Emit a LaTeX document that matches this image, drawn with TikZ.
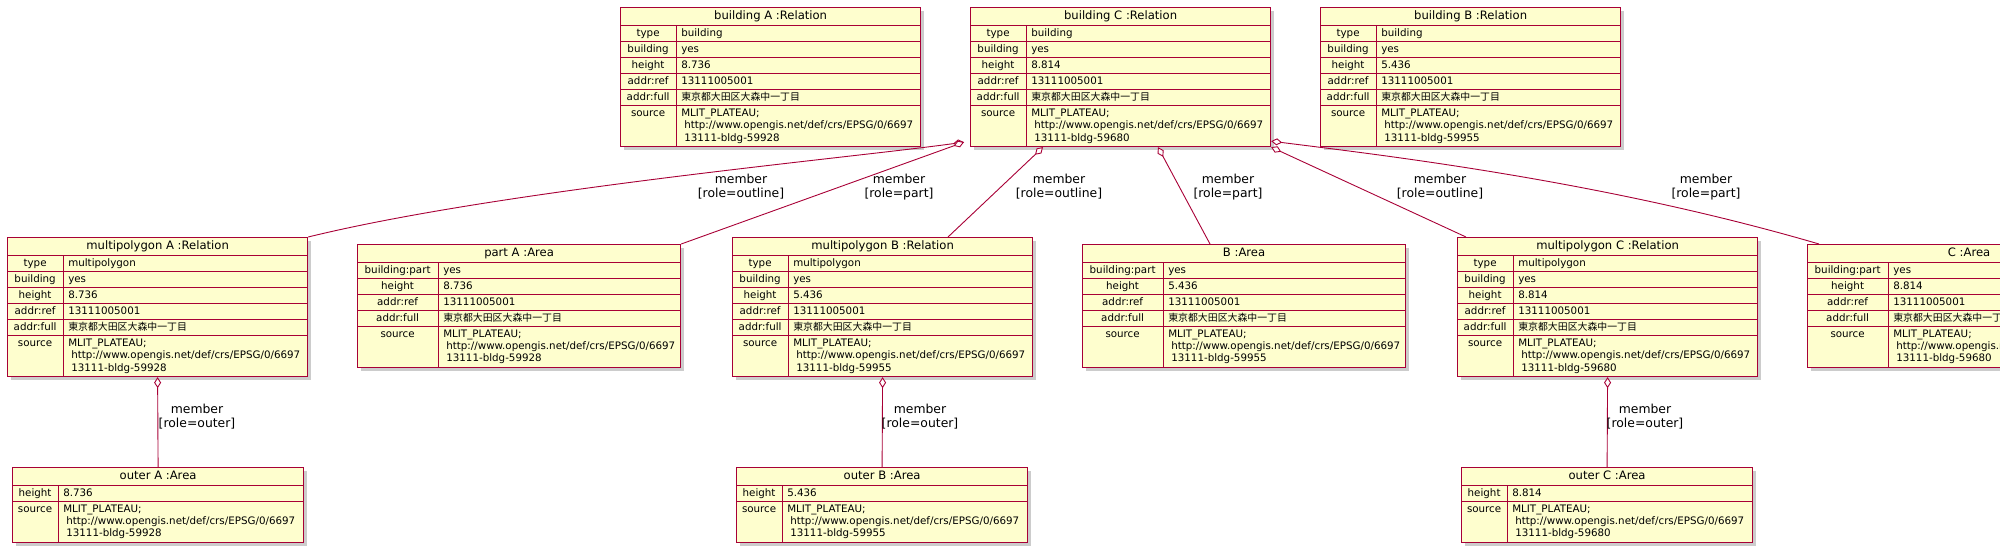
\documentclass[tikz,border=0pt]{standalone}
\usepackage{fontspec}
\usepackage{array}
\usepackage{colortbl}
\setmainfont{DejaVu Sans}
\newfontfamily\jp[Scale=0.96]{Noto Sans CJK JP}
\usetikzlibrary{arrows.meta,shadows}

\definecolor{umlred}{HTML}{A80036}
\definecolor{umlfill}{HTML}{FEFECE}

\setlength{\tabcolsep}{0pt}
\setlength{\arrayrulewidth}{0.7pt}
\renewcommand{\arraystretch}{1.25}
\arrayrulecolor{umlred}

\newcommand{\bodyfont}{\fontsize{10.3}{12.3}\selectfont}
\newcommand{\titlefont}{\fontsize{11.6}{13.9}\selectfont}
\newcommand{\addr}{{\jp 東京都大田区大森中一丁目}}
\newcommand{\objtitle}[1]{\multicolumn{2}{c}{\titlefont\rule[-4.7pt]{0pt}{17pt}#1}\\\hline}
\newcommand{\srcrow}[1]{source & MLIT\_PLATEAU;\newline\hspace*{3pt}http://www.opengis.net/def/crs/EPSG/0/6697\newline\hspace*{3pt}#1\rule[-5.5pt]{0pt}{5.5pt}}

% title, type, height, source id
\newcommand{\relbox}[4]{\begin{tabular}{@{}>{\centering\arraybackslash}p{55pt}|@{\hspace{5pt}}p{239.3pt}@{}}
\objtitle{#1}
type & #2\\\hline
building & yes\\\hline
height & #3\\\hline
addr:ref & 13111005001\\\hline
addr:full & \addr\\\hline
\srcrow{#4}
\end{tabular}}

% title, height, source id
\newcommand{\areabox}[3]{\begin{tabular}{@{}>{\centering\arraybackslash}p{80pt}|@{\hspace{5pt}}p{237.3pt}@{}}
\objtitle{#1}
building:part & yes\\\hline
height & #2\\\hline
addr:ref & 13111005001\\\hline
addr:full & \addr\\\hline
\srcrow{#3}
\end{tabular}}

\newcommand{\outerbox}[3]{\begin{tabular}{@{}>{\centering\arraybackslash}p{45pt}|@{\hspace{5pt}}p{240.3pt}@{}}
\objtitle{#1}
height & #2\\\hline
\srcrow{#3}
\end{tabular}}

\tikzset{
  obj/.style={draw=umlred, fill=umlfill, line width=1.2pt, inner sep=0pt, anchor=north west, font=\bodyfont,
    drop shadow={shadow xshift=3.5pt, shadow yshift=-3.5pt, fill=black!40, opacity=0.5}},
  member/.style={draw=umlred, line width=0.9pt, {Diamond[length=11pt,width=7pt,fill=white]}-},
  lbl/.style={align=center, inner sep=0pt, font={\fontsize{12.4}{14}\selectfont}}
}

\begin{document}
\begin{tikzpicture}[x=1pt,y=-1pt]
\useasboundingbox (0,0) rectangle (2000,552);
\clip (0,0) rectangle (2000,552);

\node[obj] (bA) at (620,7) {\relbox{building A :Relation}{building}{8.736}{13111-bldg-59928}};
\node[obj] (bC) at (970,7) {\relbox{building C :Relation}{building}{8.814}{13111-bldg-59680}};
\node[obj] (bB) at (1320,7) {\relbox{building B :Relation}{building}{5.436}{13111-bldg-59955}};

\node[obj] (mpA) at (7,237) {\relbox{multipolygon A :Relation}{multipolygon}{8.736}{13111-bldg-59928}};
\node[obj] (partA) at (357,244) {\areabox{part A :Area}{8.736}{13111-bldg-59928}};
\node[obj] (mpB) at (732,237) {\relbox{multipolygon B :Relation}{multipolygon}{5.436}{13111-bldg-59955}};
\node[obj] (arB) at (1082,244) {\areabox{B :Area}{5.436}{13111-bldg-59955}};
\node[obj] (mpC) at (1457,237) {\relbox{multipolygon C :Relation}{multipolygon}{8.814}{13111-bldg-59680}};
\node[obj] (arC) at (1807,244) {\areabox{C :Area}{8.814}{13111-bldg-59680}};

\node[obj] (outA) at (12,467) {\outerbox{outer A :Area}{8.736}{13111-bldg-59928}};
\node[obj] (outB) at (736,467) {\outerbox{outer B :Area}{5.436}{13111-bldg-59955}};
\node[obj] (outC) at (1461,467) {\outerbox{outer C :Area}{8.814}{13111-bldg-59680}};

\draw[member] ([xshift=-6pt,yshift=5pt]bC.south west) .. controls (850,158) and (500,190) .. (mpA.north east);
\draw[member] ([xshift=-6pt,yshift=5pt]bC.south west) -- (partA.north east);
\draw[member] ([xshift=73pt]bC.south west) -- ([xshift=216pt]mpB.north west);
\draw[member] ([xshift=188pt]bC.south west) -- ([xshift=128pt]arB.north west);
\draw[member] (bC.south east) -- ([xshift=9pt]mpC.north west);
\draw[member] ([yshift=6pt]bC.south east) .. controls (1380,155) and (1600,180) .. ([xshift=12pt]arC.north west);
\draw[member] (mpA.south) -- (outA.north);
\draw[member] (mpB.south) -- (outB.north);
\draw[member] (mpC.south) -- (outC.north);

\node[lbl] (m1) at (741,187) {member\\{}[role=outline]};
\node[lbl] (m2) at (899,187) {member\\{}[role=part]};
\node[lbl] (m3) at (1059,187) {member\\{}[role=outline]};
\node[lbl] (m4) at (1228,187) {member\\{}[role=part]};
\node[lbl] (m5) at (1440,187) {member\\{}[role=outline]};
\node[lbl] (m6) at (1706,187) {member\\{}[role=part]};
\node[lbl] (ma) at (197,417) {member\\{}[role=outer]};
\node[lbl] (mb) at (920,417) {member\\{}[role=outer]};
\node[lbl] (mc) at (1645,417) {member\\{}[role=outer]};
\end{tikzpicture}
\end{document}
